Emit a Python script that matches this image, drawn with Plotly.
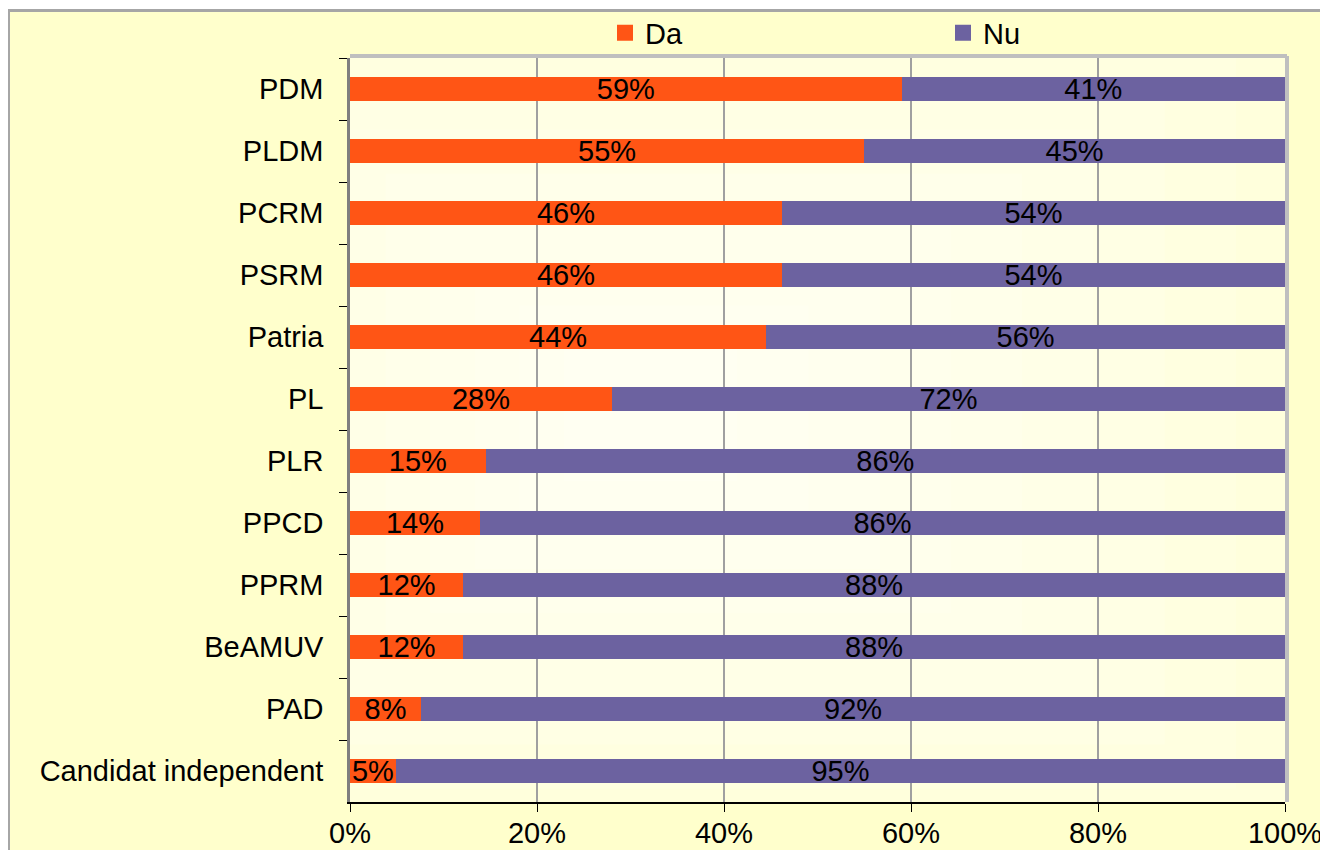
import plotly.graph_objects as go

categories = ["PDM", "PLDM", "PCRM", "PSRM", "Patria", "PL", "PLR", "PPCD",
              "PPRM", "BeAMUV", "PAD", "Candidat independent"]
da_values = [59.0, 55.0, 46.2, 46.2, 44.5, 28.0, 14.5, 13.9, 12.1, 12.1, 7.6, 4.9]
nu_values = [41.0, 45.0, 53.8, 53.8, 55.5, 72.0, 85.5, 86.1, 87.9, 87.9, 92.4, 95.1]
da_labels = ["59%", "55%", "46%", "46%", "44%", "28%", "15%", "14%", "12%", "12%", "8%", "5%"]
nu_labels = ["41%", "45%", "54%", "54%", "56%", "72%", "86%", "86%", "88%", "88%", "92%", "95%"]
series_names = ["Da", "Nu"]
x_ticks = [0, 20, 40, 60, 80, 100]
x_tick_labels = ["0%", "20%", "40%", "60%", "80%", "100%"]

FONT = "Liberation Sans, Arial, sans-serif"
FS = 29
ORANGE = "#FF5515"
PURPLE = "#6C62A0"

fig = go.Figure()
for name, vals, labels, color in [(series_names[0], da_values, da_labels, ORANGE),
                                  (series_names[1], nu_values, nu_labels, PURPLE)]:
    fig.add_trace(go.Bar(
        y=categories, x=vals, name=name, orientation="h", showlegend=False,
        marker=dict(color=color, line=dict(width=0)),
        text=labels, textposition="inside", insidetextanchor="middle",
        constraintext="none", textfont=dict(color="black", size=FS, family=FONT),
        hoverinfo="skip",
    ))
    # legend entry with square swatch
    fig.add_trace(go.Scatter(
        x=[None], y=[None], mode="markers", name=name, showlegend=True,
        marker=dict(symbol="square", size=16, color=color),
        hoverinfo="skip",
    ))

# page body adds 8px offset; compensate so plot lands at 350..1285 x 58..802
OFF = 8
W, H = 1328 - OFF, 850 - OFF
L, R, T, B = 350 - OFF, 43, 58 - OFF, 48
pw, ph = W - L - R, H - T - B

def px_x(p):
    return (p - OFF - L) / pw

def px_y(p):
    return 1 - (p - OFF - T) / ph

shapes = []
# outer chart area
shapes.append(dict(type="rect", xref="paper", yref="paper",
                   x0=px_x(8.5), x1=px_x(1400), y0=px_y(900), y1=px_y(10.5),
                   fillcolor="#FFFFCC", line=dict(color="#A6A6A6", width=3),
                   layer="below"))
# plot area background
shapes.append(dict(type="rect", xref="paper", yref="paper",
                   x0=0, x1=1, y0=0, y1=1, fillcolor="#FFFFD2",
                   line=dict(width=0), layer="below"))
# soft light center (gradient approximation)
cx, cy = 0.30, 0.52
for i in range(10):
    f = 1 - i / 10.5
    shapes.append(dict(type="rect", xref="paper", yref="paper",
                       x0=max(0, cx - 0.5 * f), x1=min(1, cx + 0.8 * f),
                       y0=max(0, cy - 0.62 * f), y1=min(1, cy + 0.62 * f),
                       fillcolor="rgba(255,255,255,0.13)", line=dict(width=0),
                       layer="below"))
# top and right border of plot area
shapes.append(dict(type="line", xref="paper", yref="paper",
                   x0=0, x1=1 + 2 / pw, y0=1 + 2 / ph, y1=1 + 2 / ph,
                   line=dict(color="#BFBFBF", width=4), layer="above"))
shapes.append(dict(type="line", xref="paper", yref="paper",
                   x0=1 + 2 / pw, x1=1 + 2 / pw, y0=0, y1=1 + 2 / ph,
                   line=dict(color="#BFBFBF", width=4), layer="above"))

fig.update_layout(
    template="none",
    width=W, height=H,
    margin=dict(l=L, r=R, t=T, b=B, pad=0, autoexpand=False),
    barmode="stack", bargap=0.61,
    paper_bgcolor="white", plot_bgcolor="rgba(0,0,0,0)",
    font=dict(family=FONT, size=FS, color="black"),
    shapes=shapes,
    showlegend=True,
    legend=dict(orientation="h", x=px_x(605), xanchor="left",
                y=px_y(33), yanchor="middle",
                bgcolor="rgba(0,0,0,0)", borderwidth=0,
                font=dict(size=FS, family=FONT),
                entrywidth=293, entrywidthmode="pixels",
                traceorder="normal"),
    xaxis=dict(range=[0, 100], tickvals=x_ticks, ticktext=x_tick_labels,
               showgrid=True, gridcolor="#A0A0A0", gridwidth=2,
               zeroline=False, showline=True, linecolor="black", linewidth=1.5,
               ticks="outside", ticklen=8, tickcolor="black", tickwidth=1,
               tickfont=dict(size=FS, family=FONT), ticklabelstandoff=-4,
               automargin=False, fixedrange=True),
    yaxis=dict(categoryorder="array", categoryarray=categories,
               autorange="reversed", showgrid=False, zeroline=False,
               showline=True, linecolor="#7F7F7F", linewidth=2.5,
               ticks="outside", tickson="boundaries", ticklen=8,
               tickcolor="black", tickwidth=1,
               tickfont=dict(size=FS, family=FONT), ticklabelstandoff=18,
               automargin=False, fixedrange=True),
)

fig.write_html("out.html")
